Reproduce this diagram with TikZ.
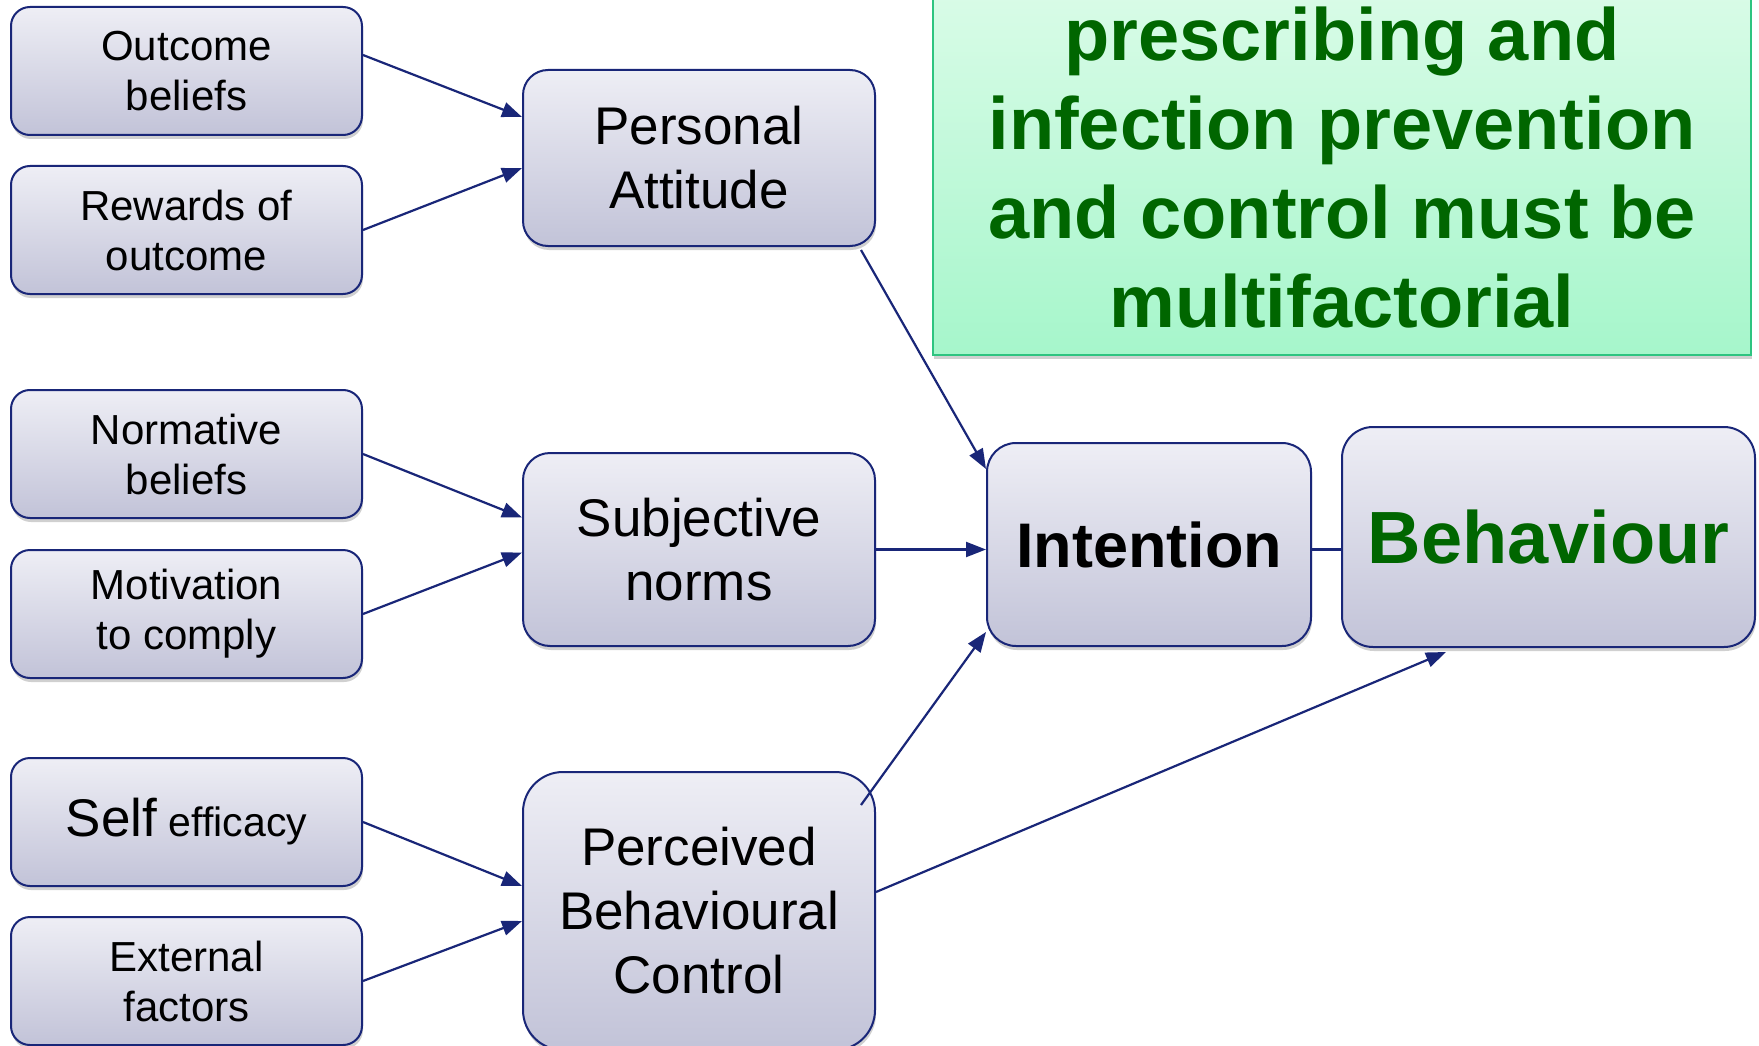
\documentclass[tikz,border=0pt]{standalone}
\usepackage{fontspec}
\setmainfont{Liberation Sans}
\usetikzlibrary{arrows.meta,shadows,calc}
\definecolor{navy}{RGB}{25,38,120}
\definecolor{boxtop}{RGB}{238,238,245}
\definecolor{boxbot}{RGB}{194,195,216}
\definecolor{greentop}{RGB}{222,252,234}
\definecolor{greenbot}{RGB}{166,246,203}
\definecolor{greenborder}{RGB}{46,196,128}
\definecolor{darkgreen}{RGB}{0,102,0}
\tikzset{
  box/.style={draw=navy, line width=2pt, top color=boxtop, bottom color=boxbot,
    align=center, inner sep=0pt, text=black,
    drop shadow={shadow xshift=1pt, shadow yshift=-4pt, opacity=0.3, fill=black!60}},
  smallbox/.style={box, rounded corners=19pt, minimum width=351pt, minimum height=128pt,
    font=\fontsize{42}{50}\selectfont},
  midbox/.style={box, minimum width=352pt, font=\fontsize{53}{64}\selectfont},
  arr/.style={draw=navy, line width=2.2pt, -{Triangle[length=20pt,width=15pt]}},
  conn/.style={draw=navy, line width=2.2pt},
}
\begin{document}
\begin{tikzpicture}[x=1pt,y=-1pt]
\useasboundingbox (0,0) rectangle (1759,1046);
\clip (0,0) rectangle (1759,1046);
\fill[white] (0,0) rectangle (1759,1046);

% message box
\node[draw=greenborder, line width=2.5pt, top color=greentop, bottom color=greenbot,
  minimum width=818pt, minimum height=400pt, inner sep=0pt,
  drop shadow={shadow xshift=1pt, shadow yshift=-4pt, opacity=0.3, fill=black!60}]
  (msgbox) at (1342,155) {};
\node[align=center, text=darkgreen, font=\fontsize{74}{89}\selectfont\bfseries, inner sep=0pt]
  (msg) at (1342,168) {prescribing and\\infection prevention\\and control must be\\multifactorial};

% left boxes
\node[smallbox] (ob) at (186.5,71) {Outcome\\beliefs};
\node[smallbox] (ro) at (186.5,230) {Rewards of\\outcome};
\node[smallbox] (nb) at (186.5,454) {Normative\\beliefs};
\node[smallbox] (mc) at (186.5,614) {Motivation\\to comply};
\node[smallbox] (se) at (186.5,822) {{\fontsize{53}{60}\selectfont Self} {\fontsize{41}{48}\selectfont efficacy}};
\node[smallbox] (ef) at (186.5,981) {External\\factors};

% middle boxes
\node[midbox, rounded corners=25pt, minimum height=176pt] (pa) at (699,158) {Personal\\Attitude};
\node[midbox, rounded corners=27pt, minimum height=193pt] (sn) at (699,549.5) {Subjective\\norms};
\node[midbox, rounded corners=40pt, minimum height=278pt] (pbc) at (699,911) {Perceived\\Behavioural\\Control};

% right boxes
\node[box, rounded corners=29pt, minimum width=324pt, minimum height=203pt,
  font=\fontsize{63}{70}\selectfont\bfseries] (int) at (1149,544.5) {Intention};
\node[box, rounded corners=31pt, minimum width=413pt, minimum height=220pt,
  font=\fontsize{74}{80}\selectfont\bfseries, text=darkgreen] (beh) at (1548.5,537) {Behaviour};

% connectors
\draw[arr] ($(ob.east)+(0,-16)$) -- ($(pa.west)+(0,-41)$);
\draw[arr] (ro.east) -- ($(pa.west)+(0,10)$);
\draw[arr] (nb.east) -- ($(sn.west)+(0,-32)$);
\draw[arr] (mc.east) -- ($(sn.west)+(0,3)$);
\draw[arr] (se.east) -- ($(pbc.west)+(0,-25)$);
\draw[arr] (ef.east) -- ($(pbc.west)+(0,10)$);
\draw[arr] ($(pa.south east)+(-15,3)$) -- ($(int.north west)+(0,27)$);
\draw[arr] (sn.east) -- (sn.east -| int.west);
\draw[arr] ($(pbc.north east)+(-15,34)$) -- ($(int.south west)+(0,-15)$);
\draw[arr] ($(pbc.east)+(0,-19)$) -- ($(beh.south west)+(105,4)$);
\draw[conn] (sn.east -| int.east) -- (sn.east -| beh.west);
\end{tikzpicture}
\end{document}
